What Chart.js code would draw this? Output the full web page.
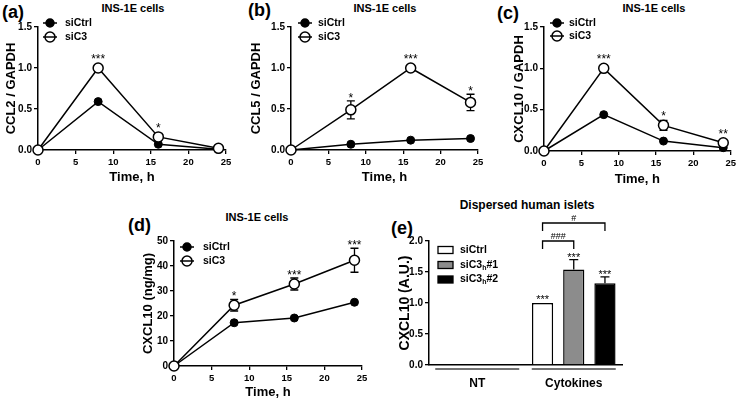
<!DOCTYPE html>
<html>
<head>
<meta charset="utf-8">
<script src="https://cdn.jsdelivr.net/npm/chart.js@4.4.1/dist/chart.umd.min.js"></script>
<style>
  body { margin: 0; background: #fff; width: 739px; height: 402px; overflow: hidden; position: relative; font-family: "Liberation Sans", Arial, sans-serif; }
  canvas { position: absolute; }
  .lbl { position: absolute; font-weight: bold; color: #000; white-space: nowrap; line-height: 1; }
  .letter { font-size: 18px; }
  .ttl { font-size: 11px; transform: translate(-50%, -50%); }
</style>
</head>
<body>
<div class="lbl letter" style="left:2px;top:3px">(a)</div>
<div class="lbl letter" style="left:248px;top:1px">(b)</div>
<div class="lbl letter" style="left:497px;top:4px">(c)</div>
<div class="lbl letter" style="left:128px;top:216px">(d)</div>
<div class="lbl letter" style="left:391px;top:219px">(e)</div>
<div class="lbl ttl" style="left:133px;top:8px">INS-1E cells</div>
<div class="lbl ttl" style="left:385px;top:8px">INS-1E cells</div>
<div class="lbl ttl" style="left:654px;top:8px">INS-1E cells</div>
<div class="lbl ttl" style="left:257px;top:217px">INS-1E cells</div>
<div class="lbl ttl" style="left:527px;top:205px;font-size:12px">Dispersed human islets</div>

<canvas id="ccl2"></canvas>
<canvas id="ccl5"></canvas>
<canvas id="cxcl10"></canvas>
<canvas id="protein"></canvas>
<canvas id="islets"></canvas>

<script>
// time course, hours
const hours = [0, 8, 16, 24];
const timeTicks = [0, 5, 10, 15, 20, 25];
const ratioTicks = [0, 0.5, 1.0, 1.5];
const ngTicks = [0, 10, 20, 30, 40, 50];
const auTicks = [0, 0.5, 1.0, 1.5, 2.0];

// (a) CCL2 / GAPDH
const ccl2Ctrl = [0, 0.59, 0.07, 0.01];
const ccl2C3 = [0, 1.0, 0.16, 0.02];
const ccl2C3Err = [0, 0, 0.03, 0];
const ccl2Stars = ['', '***', '*', ''];

// (b) CCL5 / GAPDH
const ccl5Ctrl = [0, 0.07, 0.12, 0.14];
const ccl5C3 = [0, 0.49, 1.0, 0.58];
const ccl5C3Err = [0, 0.11, 0, 0.1];
const ccl5Stars = ['', '*', '***', '*'];

// (c) CXCL10 / GAPDH
const cxcl10Ctrl = [0, 0.44, 0.12, 0.04];
const cxcl10C3 = [0, 1.0, 0.31, 0.1];
const cxcl10C3Err = [0, 0, 0.06, 0.02];
const cxcl10Stars = ['', '***', '*', '**'];

// (d) CXCL10 protein, ng/mg
const proteinCtrl = [0, 17.3, 19.2, 25.5];
const proteinC3 = [0, 24.3, 32.8, 42.3];
const proteinC3Err = [0, 2.3, 2.4, 4.8];
const proteinStars = ['', '*', '***', '***'];

// (e) dispersed human islets
const isletGroups = ['NT', 'Cytokines'];
const isletSiCtrl = [null, 1.0];
const isletSiC3h1 = [null, 1.54];
const isletSiC3h2 = [null, 1.32];
const isletSiCtrlErr = [0, 0.01];
const isletSiC3h1Err = [0, 0.16];
const isletSiC3h2Err = [0, 0.1];
const isletStars = ['***', '***', '***'];
const bracketPairs = [[0, 1], [0, 2]];
const bracketLevels = [2.0, 2.29];
const bracketLabels = ['###', '#'];

const FONT = '"Liberation Sans", Arial, sans-serif';
Chart.defaults.font.family = FONT;
Chart.defaults.color = '#000';

function placeCanvas(id, box) {
    const cv = document.getElementById(id);
    cv.width = box.r - box.l;
    cv.height = box.b - box.t;
    cv.style.left = box.l + 'px';
    cv.style.top = box.t + 'px';
    cv.style.width = cv.width + 'px';
    cv.style.height = cv.height + 'px';
    return cv;
}

function axisY(ticks, title, box, area, fmt, titleSize) {
    return {
        type: 'linear', min: ticks[0], max: ticks[ticks.length - 1],
        afterBuildTicks: s => { s.ticks = ticks.map(v => ({ value: v })); },
        afterFit: s => { s.width = area.l - box.l; },
        ticks: { font: { size: 10, weight: 'bold' }, padding: 2, callback: fmt },
        grid: { drawOnChartArea: false, color: '#000', tickLength: 4, lineWidth: 1.3 },
        border: { color: '#000', width: 1.5 },
        title: { display: true, text: title, font: { size: titleSize || 13, weight: 'bold' }, padding: { top: 4, bottom: 0 } }
    };
}

function linePanel(id, box, area, ctrl, c3, c3Err, stars, yTicks, yTitle, fmt, legend, titlePad) {
    const cv = placeCanvas(id, box);
    const L = { mx: legend.mx - box.l, tx: legend.tx - box.l, rows: legend.rows.map(r => r - box.t) };

    const extras = {
        id: 'extras',
        beforeDatasetsDraw(chart) {
            const { ctx, scales: { x, y } } = chart;
            ctx.save();
            ctx.strokeStyle = '#000';
            ctx.lineWidth = 1.3;
            hours.forEach((h, i) => {
                if (!c3Err[i]) return;
                const px = x.getPixelForValue(h);
                const y1 = y.getPixelForValue(c3[i] + c3Err[i]);
                const y2 = y.getPixelForValue(c3[i] - c3Err[i]);
                ctx.beginPath();
                ctx.moveTo(px, y1); ctx.lineTo(px, y2);
                ctx.moveTo(px - 4, y1); ctx.lineTo(px + 4, y1);
                ctx.moveTo(px - 4, y2); ctx.lineTo(px + 4, y2);
                ctx.stroke();
            });
            ctx.restore();
        },
        afterDatasetsDraw(chart) {
            const { ctx, scales: { x, y } } = chart;
            ctx.save();
            // significance stars
            ctx.font = '12px ' + FONT;
            ctx.textAlign = 'center';
            ctx.textBaseline = 'alphabetic';
            ctx.fillStyle = '#000';
            hours.forEach((h, i) => {
                if (!stars[i]) return;
                const px = x.getPixelForValue(h);
                const top = Math.min(y.getPixelForValue(c3[i] + c3Err[i]), y.getPixelForValue(c3[i]) - 6);
                ctx.fillText(stars[i], px, top + 1);
            });
            // legend
            ctx.lineWidth = 1.5;
            ctx.strokeStyle = '#000';
            ['siCtrl', 'siC3'].forEach((name, k) => {
                const ry = L.rows[k];
                ctx.beginPath();
                ctx.arc(L.mx, ry, k === 0 ? 4 : 5, 0, Math.PI * 2);
                ctx.fillStyle = k === 0 ? '#000' : '#fff';
                ctx.fill();
                ctx.stroke();
                ctx.beginPath();
                ctx.moveTo(L.mx - 7, ry); ctx.lineTo(L.mx + 7, ry);
                ctx.stroke();
                ctx.fillStyle = '#000';
                ctx.font = 'bold 10.5px ' + FONT;
                ctx.textAlign = 'left';
                ctx.textBaseline = 'middle';
                ctx.fillText(name, L.tx, ry);
            });
            ctx.restore();
        }
    };

    return new Chart(cv, {
        type: 'line',
        data: {
            datasets: [
                {
                    label: 'siC3',
                    data: hours.map((h, i) => ({ x: h, y: c3[i] })),
                    borderColor: '#000', borderWidth: 1.5, tension: 0,
                    pointRadius: 5, pointBackgroundColor: '#fff', pointBorderColor: '#000', pointBorderWidth: 1.5,
                    clip: false
                },
                {
                    label: 'siCtrl',
                    data: hours.map((h, i) => ({ x: h, y: ctrl[i] })),
                    borderColor: '#000', borderWidth: 1.5, tension: 0,
                    pointRadius: 4, pointBackgroundColor: '#000', pointBorderColor: '#000', pointBorderWidth: 1,
                    clip: false
                }
            ]
        },
        options: {
            responsive: false, animation: false,
            layout: { padding: { top: area.t - box.t, right: box.r - area.r, left: 0, bottom: 0 } },
            plugins: { legend: { display: false }, tooltip: { enabled: false } },
            scales: {
                x: {
                    type: 'linear', min: 0, max: 25,
                    afterBuildTicks: s => { s.ticks = timeTicks.map(v => ({ value: v })); },
                    afterFit: s => { s.height = box.b - area.b; },
                    ticks: { font: { size: 9.5, weight: 'bold' }, padding: 3, maxRotation: 0, autoSkip: false },
                    grid: { drawOnChartArea: false, color: '#000', tickLength: 4, lineWidth: 1.3 },
                    border: { color: '#000', width: 1.5 },
                    title: { display: true, text: 'Time, h', font: { size: 13, weight: 'bold' }, padding: { top: 0, bottom: titlePad } }
                },
                y: axisY(yTicks, yTitle, box, area, fmt)
            }
        },
        plugins: [extras]
    });
}

const oneDec = v => v.toFixed(1);
const noDec = v => String(v);

linePanel('ccl2', { l: 0, t: 0, r: 245, b: 190 }, { l: 38, t: 27, r: 226, b: 150 },
    ccl2Ctrl, ccl2C3, ccl2C3Err, ccl2Stars, ratioTicks, 'CCL2 / GAPDH', oneDec,
    { mx: 50, tx: 65, rows: [23, 37] }, 5);

linePanel('ccl5', { l: 245, t: 0, r: 488, b: 190 }, { l: 291, t: 27, r: 478, b: 150 },
    ccl5Ctrl, ccl5C3, ccl5C3Err, ccl5Stars, ratioTicks, 'CCL5 / GAPDH', oneDec,
    { mx: 305, tx: 318, rows: [23, 37] }, 5);

linePanel('cxcl10', { l: 508, t: 0, r: 739, b: 190 }, { l: 544, t: 27, r: 733, b: 151 },
    cxcl10Ctrl, cxcl10C3, cxcl10C3Err, cxcl10Stars, ratioTicks, 'CXCL10 / GAPDH', oneDec,
    { mx: 557, tx: 569, rows: [23, 36] }, 3);

linePanel('protein', { l: 137, t: 200, r: 372, b: 402 }, { l: 174, t: 241, r: 362, b: 366 },
    proteinCtrl, proteinC3, proteinC3Err, proteinStars, ngTicks, 'CXCL10 (ng/mg)', noDec,
    { mx: 187, tx: 203, rows: [247, 261] }, 2);

// (e) bar chart
(function () {
    const box = { l: 393, t: 195, r: 639, b: 402 };
    const area = { l: 429, t: 241, r: 622, b: 365 };
    const cv = placeCanvas('islets', box);
    const errs = [isletSiCtrlErr, isletSiC3h1Err, isletSiC3h2Err];
    const legendParts = [['siCtrl', '', ''], ['siC3', 'h', '#1'], ['siC3', 'h', '#2']];
    const legendRows = [250, 265, 279.5];
    const fills = ['#fff', '#8c8c8c', '#000'];

    const extras = {
        id: 'extras',
        afterDatasetsDraw(chart) {
            const { ctx, scales: { x, y } } = chart;
            ctx.save();
            ctx.strokeStyle = '#000';
            ctx.fillStyle = '#000';
            ctx.lineWidth = 1.3;
            // error bars + stars on the cytokine group
            chart.data.datasets.forEach((ds, d) => {
                const bar = chart.getDatasetMeta(d).data[1];
                const v = ds.data[1];
                const top = y.getPixelForValue(v + errs[d][1]);
                if (errs[d][1] > 0.02) {
                    ctx.beginPath();
                    ctx.moveTo(bar.x, y.getPixelForValue(v)); ctx.lineTo(bar.x, top);
                    ctx.moveTo(bar.x - 4.5, top); ctx.lineTo(bar.x + 4.5, top);
                    ctx.stroke();
                }
                ctx.font = '11px ' + FONT;
                ctx.textAlign = 'center';
                ctx.textBaseline = 'alphabetic';
                ctx.fillText(isletStars[d], bar.x, Math.min(top, y.getPixelForValue(v)) + 1);
            });
            // comparison brackets
            bracketPairs.forEach(([a, b], k) => {
                const xa = chart.getDatasetMeta(a).data[1].x;
                const xb = chart.getDatasetMeta(b).data[1].x;
                const yy = y.getPixelForValue(bracketLevels[k]);
                ctx.beginPath();
                ctx.moveTo(xa, yy + 8); ctx.lineTo(xa, yy); ctx.lineTo(xb, yy); ctx.lineTo(xb, yy + 8);
                ctx.stroke();
                ctx.font = '9px ' + FONT;
                ctx.fillText(bracketLabels[k], (xa + xb) / 2, yy - 2);
            });
            // group underlines
            ctx.strokeStyle = '#444';
            ctx.lineWidth = 1.5;
            isletGroups.forEach((g, i) => {
                const cx = x.getPixelForValue(i);
                ctx.beginPath();
                ctx.moveTo(cx - 42, area.b - box.t + 4); ctx.lineTo(cx + 42, area.b - box.t + 4);
                ctx.stroke();
            });
            // legend
            ctx.strokeStyle = '#000';
            ctx.lineWidth = 1.3;
            legendParts.forEach((parts, k) => {
                const ry = legendRows[k] - box.t;
                const bx = 438 - box.l;
                ctx.fillStyle = fills[k];
                ctx.fillRect(bx, ry - 3.5, 15, 7);
                ctx.strokeRect(bx, ry - 3.5, 15, 7);
                ctx.fillStyle = '#000';
                ctx.textAlign = 'left';
                ctx.textBaseline = 'middle';
                let tx = 460 - box.l;
                ctx.font = 'bold 10.5px ' + FONT;
                ctx.fillText(parts[0], tx, ry);
                tx += ctx.measureText(parts[0]).width;
                if (parts[1]) {
                    ctx.font = 'bold 7px ' + FONT;
                    ctx.fillText(parts[1], tx, ry + 3);
                    tx += ctx.measureText(parts[1]).width;
                    ctx.font = 'bold 10.5px ' + FONT;
                    ctx.fillText(parts[2], tx, ry);
                }
            });
            ctx.restore();
        }
    };

    const mk = (label, data, color) => ({
        label, data, backgroundColor: color, borderColor: '#000', borderWidth: 1.5,
        categoryPercentage: 0.97, barPercentage: 0.68
    });

    new Chart(cv, {
        type: 'bar',
        data: {
            labels: isletGroups,
            datasets: [
                mk('siCtrl', isletSiCtrl, fills[0]),
                mk('siC3h#1', isletSiC3h1, fills[1]),
                mk('siC3h#2', isletSiC3h2, fills[2])
            ]
        },
        options: {
            responsive: false, animation: false,
            layout: { padding: { top: area.t - box.t, right: box.r - area.r, left: 0, bottom: 0 } },
            plugins: { legend: { display: false }, tooltip: { enabled: false } },
            scales: {
                x: {
                    afterFit: s => { s.height = box.b - area.b; },
                    ticks: { font: { size: 12, weight: 'bold' }, padding: 11 },
                    grid: { display: false, drawTicks: false },
                    border: { color: '#000', width: 1.5 }
                },
                y: axisY(auTicks, 'CXCL10 (A.U.)', box, area, oneDec, 14)
            }
        },
        plugins: [extras]
    });
})();
</script>
</body>
</html>
